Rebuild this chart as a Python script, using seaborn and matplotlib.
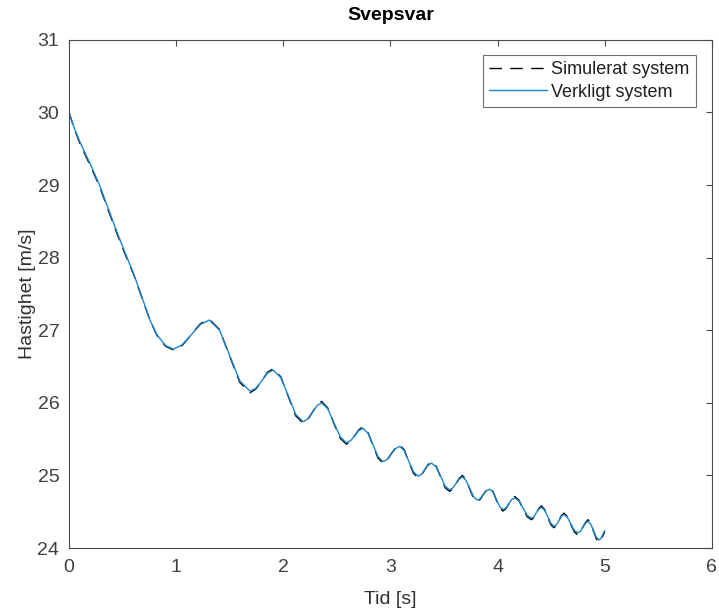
import pandas as pd
import seaborn as sns
import matplotlib.pyplot as plt

# Values
tid = [0.00, 0.05, 0.10, 0.15, 0.22, 0.29, 0.36, 0.44, 0.52, 0.60, 0.68, 0.755, 0.82, 0.90, 0.973,
       1.057, 1.142, 1.226, 1.31,
       1.405, 1.50, 1.595, 1.69,
       1.744, 1.798, 1.852, 1.906,
       1.976, 2.046, 2.116, 2.186,
       2.229, 2.272, 2.314, 2.357,
       2.415, 2.474, 2.532, 2.59,
       2.629, 2.668, 2.706, 2.745,
       2.791, 2.838, 2.884, 2.93,
       2.969, 3.009, 3.048, 3.087,
       3.130, 3.173, 3.215, 3.258,
       3.289, 3.321, 3.352, 3.383,
       3.426, 3.469, 3.511, 3.554,
       3.584, 3.613, 3.643, 3.672,
       3.706, 3.741, 3.775, 3.809,
       3.839, 3.868, 3.898, 3.927,
       3.958, 3.989, 4.020, 4.051,
       4.078, 4.106, 4.133, 4.16,
       4.199, 4.238, 4.277, 4.316,
       4.340, 4.363, 4.387, 4.41,
       4.439, 4.469, 4.498, 4.527,
       4.550, 4.574, 4.597, 4.62,
       4.653, 4.685, 4.718, 4.75,
       4.774, 4.797, 4.821, 4.844,
       4.870, 4.896, 4.921, 4.947,
       4.965, 4.983, 5.00]

verkligt = [30.00, 29.78, 29.60, 29.44, 29.22, 28.98, 28.70, 28.38, 28.08, 27.79, 27.46, 27.14, 26.94, 26.79, 26.74,
            26.80, 26.94, 27.08, 27.14,
            27.00, 26.65, 26.30, 26.16,
            26.20, 26.30, 26.41, 26.45,
            26.35, 26.10, 25.84, 25.74,
            25.78, 25.87, 25.96, 26.00,
            25.92, 25.72, 25.53, 25.45,
            25.48, 25.55, 25.62, 25.65,
            25.58, 25.42, 25.26, 25.19,
            25.22, 25.30, 25.37, 25.40,
            25.34, 25.19, 25.05, 24.99,
            25.01, 25.08, 25.14, 25.17,
            25.12, 24.99, 24.85, 24.80,
            24.83, 24.89, 24.95, 24.98,
            24.93, 24.82, 24.71, 24.66,
            24.68, 24.74, 24.79, 24.81,
            24.77, 24.67, 24.57, 24.53,
            24.55, 24.61, 24.67, 24.69,
            24.65, 24.55, 24.45, 24.41,
            24.43, 24.49, 24.54, 24.56,
            24.52, 24.43, 24.34, 24.30,
            24.32, 24.38, 24.44, 24.46,
            24.42, 24.33, 24.24, 24.21,
            24.23, 24.29, 24.34, 24.37,
            24.33, 24.24, 24.15, 24.11,
            24.13, 24.19, 24.24]

simulerat = [30.00, 29.77, 29.58, 29.42, 29.20, 28.96, 28.68, 28.36, 28.06, 27.78, 27.45, 27.14, 26.93, 26.78, 26.73,
             26.79, 26.94, 27.09, 27.15,
             27.01, 26.64, 26.28, 26.14,
             26.19, 26.30, 26.42, 26.47,
             26.36, 26.09, 25.82, 25.72,
             25.77, 25.87, 25.97, 26.02,
             25.93, 25.71, 25.51, 25.43,
             25.47, 25.55, 25.63, 25.67,
             25.59, 25.41, 25.24, 25.17,
             25.21, 25.30, 25.38, 25.42,
             25.35, 25.18, 25.03, 24.97,
             25.00, 25.08, 25.15, 25.19,
             25.13, 24.98, 24.83, 24.78,
             24.82, 24.89, 24.96, 25.00,
             24.94, 24.81, 24.69, 24.64,
             24.67, 24.74, 24.80, 24.83,
             24.78, 24.66, 24.55, 24.51,
             24.54, 24.61, 24.68, 24.71,
             24.66, 24.54, 24.43, 24.39,
             24.42, 24.49, 24.55, 24.58,
             24.53, 24.42, 24.32, 24.28,
             24.31, 24.38, 24.45, 24.48,
             24.43, 24.32, 24.22, 24.18,
             24.22, 24.29, 24.35, 24.39,
             24.34, 24.23, 24.13, 24.08,
             24.11, 24.17, 24.22]

df = pd.DataFrame({"Tid": tid, "Simulerat system": simulerat, "Verkligt system": verkligt})

sns.set_style("white")
plt.rcParams["font.family"] = ["Liberation Sans", "DejaVu Sans"]

fig = plt.figure(figsize=(7.19, 6.13), dpi=100)
ax = fig.add_axes([0.096, 0.106, 0.894, 0.829])

sns.lineplot(data=df, x="Tid", y="Simulerat system", ax=ax, color="black",
             linestyle=(0, (9, 6)), linewidth=1.0, label="Simulerat system")
sns.lineplot(data=df, x="Tid", y="Verkligt system", ax=ax, color="#1a86d0",
             linewidth=1.0, label="Verkligt system")

ax.set_xlim(0, 6)
ax.set_ylim(24, 31)
ax.set_xticks(range(0, 7))
ax.set_yticks(range(24, 32))
ax.tick_params(direction="in", length=4, width=0.8, colors="#4a4a4a",
               labelsize=14, top=True, right=True, labelcolor="#404040")
ax.tick_params(axis="x", pad=8)
ax.tick_params(axis="y", pad=7)
for s in ax.spines.values():
    s.set_color("#4a4a4a")
    s.set_linewidth(0.8)

ax.set_xlabel("Tid [s]", fontsize=14, color="#303030", labelpad=11)
ax.set_ylabel("Hastighet [m/s]", fontsize=14, color="#303030", labelpad=1)
ax.set_title("Svepsvar", fontsize=14, fontweight="bold", color="black", pad=14)

leg = ax.legend(loc="upper right", fontsize=13, frameon=True, fancybox=False,
                handlelength=3.2, handletextpad=0.25, labelspacing=0.3,
                borderpad=0.35, borderaxespad=0, bbox_to_anchor=(0.975, 0.9705))
leg.get_frame().set_edgecolor("#4a4a4a")
leg.get_frame().set_linewidth(0.8)
for t in leg.get_texts():
    t.set_color("#202020")

fig.savefig("out.png", dpi=100)
